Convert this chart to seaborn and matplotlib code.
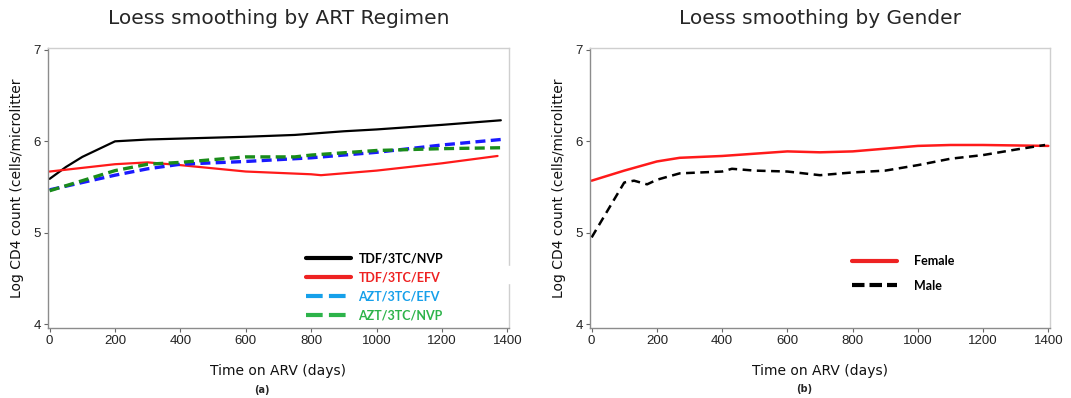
import numpy as np
import pandas as pd
import matplotlib as mpl
mpl.use("Agg")
import matplotlib.pyplot as plt
import seaborn as sns
from matplotlib.lines import Line2D
from matplotlib.patches import Rectangle

# ---- data ----
# panel (a): ART regimen
nvp_tdf_x = [0, 50, 100, 200, 300, 400, 600, 750, 900, 1000, 1200, 1380]
nvp_tdf_y = [5.59, 5.72, 5.83, 6.0, 6.02, 6.03, 6.05, 6.07, 6.11, 6.13, 6.18, 6.23]
efv_tdf_x = [0, 200, 300, 400, 600, 800, 830, 1000, 1100, 1200, 1370]
efv_tdf_y = [5.67, 5.75, 5.77, 5.74, 5.67, 5.64, 5.63, 5.68, 5.72, 5.76, 5.84]
efv_azt_x = [0, 200, 300, 400, 600, 800, 1000, 1200, 1380]
efv_azt_y = [5.47, 5.63, 5.70, 5.75, 5.78, 5.82, 5.88, 5.96, 6.02]
nvp_azt_x = [0, 200, 300, 400, 600, 750, 800, 1000, 1200, 1380]
nvp_azt_y = [5.46, 5.68, 5.75, 5.77, 5.83, 5.83, 5.85, 5.90, 5.92, 5.93]

# panel (b): gender
female_x = [0, 100, 200, 270, 400, 600, 700, 800, 1000, 1100, 1200, 1300, 1400]
female_y = [5.57, 5.68, 5.78, 5.82, 5.84, 5.89, 5.88, 5.89, 5.95, 5.96, 5.96, 5.955, 5.95]
male_x = [0, 50, 100, 130, 170, 200, 270, 400, 430, 500, 600, 700, 800, 900, 1000, 1100, 1200, 1300, 1390]
male_y = [4.95, 5.25, 5.55, 5.57, 5.53, 5.58, 5.65, 5.67, 5.70, 5.68, 5.67, 5.63, 5.66, 5.68, 5.74, 5.81, 5.85, 5.91, 5.96]

x_ticks = [0, 200, 400, 600, 800, 1000, 1200, 1400]
y_ticks = [4, 5, 6, 7]

sns.set_style("white")
plt.rcParams['font.family'] = ['Liberation Sans', 'DejaVu Sans']

fig = plt.figure(figsize=(10.71, 3.98), dpi=100)
ax1 = fig.add_axes([48/1071, 1-328/398, 461/1071, 280/398])
ax2 = fig.add_axes([590/1071, 1-328/398, 460/1071, 280/398])


def series_df(x, y, name):
    return pd.DataFrame({'day': x, 'cd4': y, 'grp': name})


def style_axis(ax, title):
    ax.set_xlim(-5, 1405)
    ax.set_ylim(3.96, 7.02)
    ax.set_xticks(x_ticks)
    ax.set_yticks(y_ticks)
    ax.tick_params(axis='both', direction='out', length=3, width=0.8,
                   color='#666666', labelsize=9.5, labelcolor='#222222', pad=2,
                   bottom=True, left=True)
    for s in ['left', 'bottom']:
        ax.spines[s].set_color('#8c8c8c')
        ax.spines[s].set_linewidth(1.0)
    for s in ['top', 'right']:
        ax.spines[s].set_color('#cfcfcf')
        ax.spines[s].set_linewidth(1.0)
    ax.set_xlabel('Time on ARV (days)', fontsize=10, family='DejaVu Sans',
                  labelpad=12, color='#111111')
    ax.set_ylabel('Log CD4 count (cells/microlitter', fontsize=10,
                  family='DejaVu Sans', labelpad=7, color='#111111')
    ax.set_title(title, fontsize=14.5, family='DejaVu Sans', pad=17)


# ---- panel (a) ----
a_series = [
    (nvp_tdf_x, nvp_tdf_y, 'TDF/3TC/NVP', 'black', '', 1.6),
    (efv_tdf_x, efv_tdf_y, 'TDF/3TC/EFV', '#ff1a1a', '', 1.6),
    (efv_azt_x, efv_azt_y, 'AZT/3TC/EFV', '#1a1aff', (3, 1.6), 2.4),
    (nvp_azt_x, nvp_azt_y, 'AZT/3TC/NVP', '#1a8c1a', (3, 1.6), 2.4),
]
for x, y, name, col, dash, lw in a_series:
    d = series_df(x, y, name)
    sns.lineplot(data=d, x='day', y='cd4', ax=ax1, color=col, lw=lw,
                 legend=False)
    if dash:
        ax1.lines[-1].set_dashes(dash)

style_axis(ax1, 'Loess smoothing by ART Regimen')

leg_a = [
    ('TDF/3TC/NVP', 'black', '-'),
    ('TDF/3TC/EFV', '#ee2222', '-'),
    ('AZT/3TC/EFV', '#16a0ea', (0, (4, 1.5))),
    ('AZT/3TC/NVP', '#2db34a', (0, (4, 1.5))),
]
handles = [Line2D([], [], color=c, lw=3, ls=ls) for _, c, ls in leg_a]
lg = ax1.legend(handles, [t for t, _, _ in leg_a], loc='upper left',
                bbox_to_anchor=(0.535, 0.31), frameon=False, handlelength=3.6,
                handletextpad=0.6, labelspacing=0.55,
                prop=dict(family='Lato', weight='bold', size=9))
for t, (_, c, _) in zip(lg.get_texts(), leg_a):
    t.set_color(c)
ax1.add_patch(Rectangle((0.995, 0.16), 0.02, 0.06, transform=ax1.transAxes,
                        color='white', clip_on=False, zorder=5))

# ---- panel (b) ----
b_series = [
    (female_x, female_y, 'Female', '#ff1a1a', '', 1.8),
    (male_x, male_y, 'Male', 'black', (3.5, 2.2), 1.8),
]
for x, y, name, col, dash, lw in b_series:
    d = series_df(x, y, name)
    sns.lineplot(data=d, x='day', y='cd4', ax=ax2, color=col, lw=lw,
                 legend=False)
    if dash:
        ax2.lines[-1].set_dashes(dash)

style_axis(ax2, 'Loess smoothing by Gender')

leg_b = [('Female', '#ee2222', '-'), ('Male', 'black', (0, (3, 1.2)))]
handles = [Line2D([], [], color=c, lw=3, ls=ls) for _, c, ls in leg_b]
lg2 = ax2.legend(handles, [t for t, _, _ in leg_b], loc='upper left',
                 bbox_to_anchor=(0.545, 0.30), frameon=False, handlelength=3.6,
                 handletextpad=1.4, labelspacing=1.0,
                 prop=dict(family='Lato', weight='bold', size=9))
for t in lg2.get_texts():
    t.set_color('black')

fig.text(262/1071, 1-390/398, '(a)', fontsize=7, weight='bold', ha='center',
         va='center', family='DejaVu Sans')
fig.text(804/1071, 1-389/398, '(b)', fontsize=7, weight='bold', ha='center',
         va='center', family='DejaVu Sans')

fig.savefig('out.png', dpi=100)
